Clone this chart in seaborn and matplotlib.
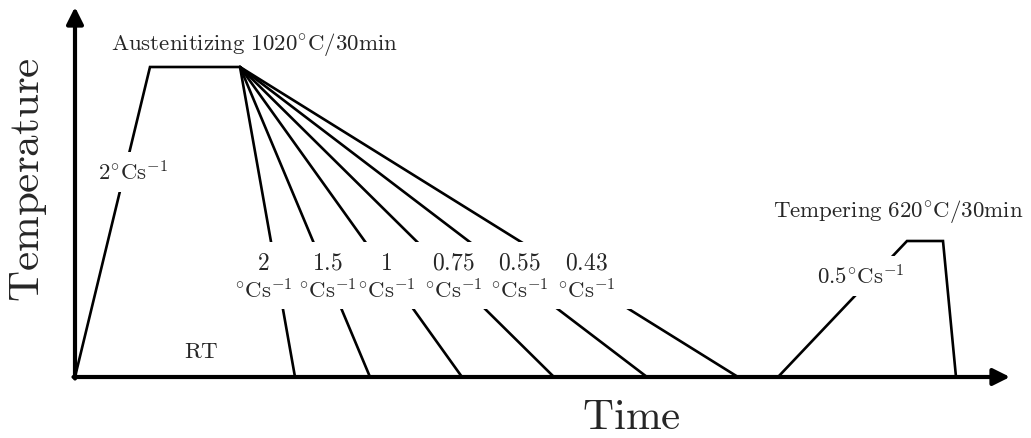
import pandas as pd
import matplotlib
matplotlib.use("Agg")
import matplotlib.pyplot as plt
import seaborn as sns
from matplotlib.patches import Rectangle

# Schematic heat-treatment route (arbitrary time / temperature units, RT = 0)
heat_time = [0, 75, 165]
heat_temp = [0, 310, 310]
cool_rates = ["2", "1.5", "1", "0.75", "0.55", "0.43"]
cool_end_time = [220, 295, 387, 479, 572, 663]
temper_time = [703, 832, 868, 881]
temper_temp = [0, 136, 136, 0]

rows = []
for t, T in zip(heat_time, heat_temp):
    rows.append(("austenitize", t, T))
for rate, t_end in zip(cool_rates, cool_end_time):
    rows.append((f"cool {rate}", heat_time[-1], heat_temp[-1]))
    rows.append((f"cool {rate}", t_end, 0))
for t, T in zip(temper_time, temper_temp):
    rows.append(("temper", t, T))
df = pd.DataFrame(rows, columns=["path", "time", "temp"])

sns.set_style("white")
plt.rcParams["mathtext.fontset"] = "cm"

fig = plt.figure(figsize=(10.31, 4.39), dpi=100)
ax = fig.add_axes([75 / 1031, 61 / 439, 935 / 1031, 370 / 439])

sns.lineplot(data=df, x="time", y="temp", units="path", estimator=None,
             sort=False, color="black", linewidth=1.9, legend=False, ax=ax)
for ln in ax.lines:
    ln.set_clip_on(False)
    ln.set_solid_joinstyle("miter")

ax.set_xlim(0, 935)
ax.set_ylim(0, 370)
ax.axis("off")

# axes drawn as arrows
arrow = dict(arrowstyle="-|>", color="black", lw=3, mutation_scale=25,
             shrinkA=0, shrinkB=0)
ax.annotate("", xy=(935, 0), xytext=(-1.5, 0), arrowprops=arrow, annotation_clip=False)
ax.annotate("", xy=(0, 370), xytext=(0, -1.5), arrowprops=arrow, annotation_clip=False)

# white band behind the cooling-rate labels
ax.add_patch(Rectangle((155, 68), 410, 67, facecolor="white", edgecolor="none", zorder=3))

fs = 16.5
box = dict(facecolor="white", edgecolor="none", pad=6)
unit = r"$\mathrm{{}^{\circ}Cs^{-1}}$"

ax.text(179, 333, r"$\mathrm{Austenitizing\ 1020^{\circ}C/30min}$", fontsize=fs,
        ha="center", va="center", zorder=5)
ax.text(58, 205, r"$\mathrm{2^{\circ}Cs^{-1}}$", fontsize=fs, ha="center",
        va="center", bbox=box, zorder=5)

label_x = [188, 252, 311, 378, 444, 511]
for rate, x in zip(cool_rates, label_x):
    ax.text(x, 115, r"$\mathrm{%s}$" % rate, fontsize=17, ha="center", va="center", zorder=5)
    ax.text(x, 87, unit, fontsize=fs, ha="center", va="center", zorder=5)

ax.text(823, 166, r"$\mathrm{Tempering\ 620^{\circ}C/30min}$", fontsize=fs,
        ha="center", va="center", zorder=5)
ax.text(786, 101, r"$\mathrm{0.5^{\circ}Cs^{-1}}$", fontsize=fs, ha="center",
        va="center", bbox=box, zorder=5)
ax.text(126, 26, r"$\mathrm{RT}$", fontsize=fs, ha="center", va="center", zorder=5)

ax.text(-47, 198, r"$\mathrm{Temperature}$", fontsize=31, rotation=90,
        ha="center", va="center")
ax.text(556, -39, r"$\mathrm{Time}$", fontsize=31, ha="center", va="center")

fig.savefig("out.png", dpi=100, facecolor="white")
